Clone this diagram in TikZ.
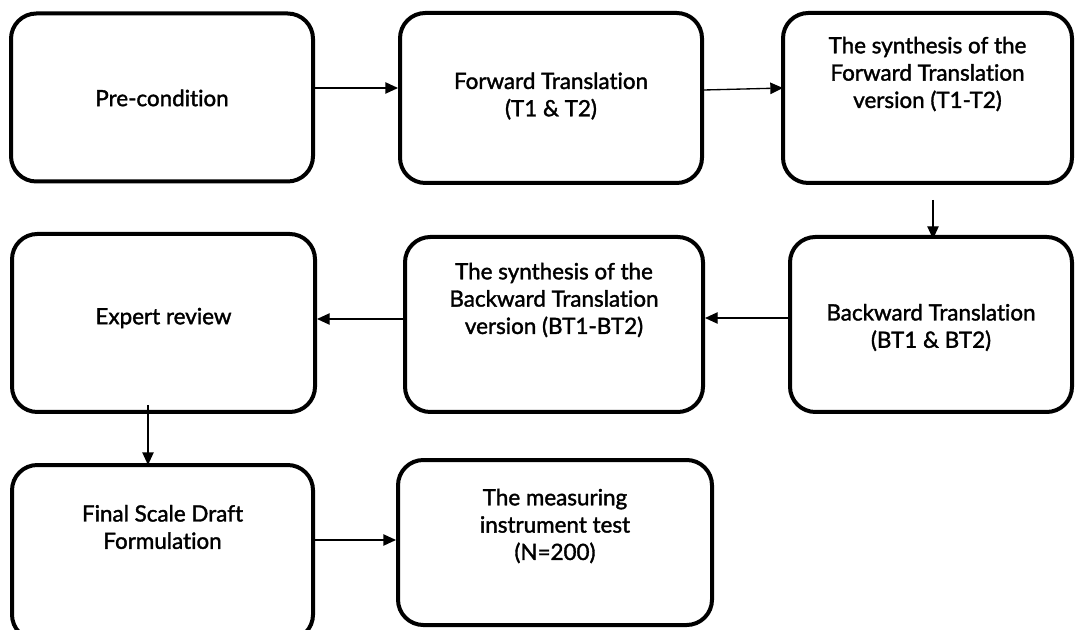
\documentclass[tikz,border=0pt]{standalone}
\usepackage{fontspec}
\setmainfont{Lato}[Ligatures={NoCommon}, FakeBold=1.6]
\usetikzlibrary{arrows.meta,calc}
\tikzset{
  box/.style={draw=black, line width=3pt, rounded corners=19pt, fill=white, inner sep=0pt},
  txt/.style={align=center, font=\fontsize{16.8}{20.5}\selectfont, inner sep=0pt},
  arr/.style={draw=black, line width=1pt, -{Triangle[length=9.5pt,width=8.5pt]}}
}
\begin{document}
\begin{tikzpicture}[x=0.75pt,y=-0.75pt]
\useasboundingbox (0,0) rectangle (1084,630);
\begin{scope}
\clip (0,0) rectangle (1084,630);
\node[box, minimum width=302*0.75pt, minimum height=168*0.75pt] (b1) at (162,97.5) {};
\node[box, minimum width=302*0.75pt, minimum height=170*0.75pt] (b2) at (551,98) {};
\node[box, minimum width=289*0.75pt, minimum height=170*0.75pt] (b3) at (927.5,98) {};
\node[box, minimum width=303*0.75pt, minimum height=178*0.75pt] (b4) at (163.5,323) {};
\node[box, minimum width=298*0.75pt, minimum height=175*0.75pt] (b5) at (554,324.5) {};
\node[box, minimum width=282*0.75pt, minimum height=175*0.75pt] (b6) at (931,324.5) {};
\node[box, minimum width=301*0.75pt, minimum height=175*0.75pt] (b7) at (162.5,552.5) {};
\node[box, minimum width=314*0.75pt, minimum height=165*0.75pt] (b8) at (555,542.5) {};
\end{scope}

\node[txt] (t1) at (162,98) {Pre-condition};
\node[txt] (t2) at (551,96) {Forward Translation\\(T1 \& T2)};
\node[txt] (t3) at (927.5,74) {The synthesis of the\\Forward Translation\\version (T1-T2)};
\node[txt] (t4) at (163.5,318) {Expert review};
\node[txt] (t5) at (554,300) {The synthesis of the\\Backward Translation\\version (BT1-BT2)};
\node[txt] (t6) at (931,327.5) {Backward Translation\\(BT1 \& BT2)};
\node[txt] (t7) at (162.5,527) {Final Scale Draft\\Formulation};
\node[txt] (t8) at (555,526) {The measuring\\instrument test\\(N=200)};

\coordinate (s1) at (315,88);
\coordinate (s2) at (704,90);
\coordinate (e2) at (783,88);
\coordinate (s3) at (933,200);
\coordinate (e3) at (933,239);
\coordinate (s4) at (789,318);
\coordinate (s5) at (405,319);
\coordinate (s6) at (148,405);
\coordinate (e6) at (148,465);
\coordinate (s7) at (313,540);

\draw[arr] (s1) -- (s1 -| b2.west);
\draw[arr] (s2) -- (e2);
\draw[arr] (s3) -- (e3);
\draw[arr] (s4) -- (s4 -| b5.east);
\draw[arr] (s5) -- (s5 -| b4.east);
\draw[arr] (s6) -- (e6);
\draw[arr] (s7) -- (s7 -| b8.west);
\end{tikzpicture}
\end{document}
